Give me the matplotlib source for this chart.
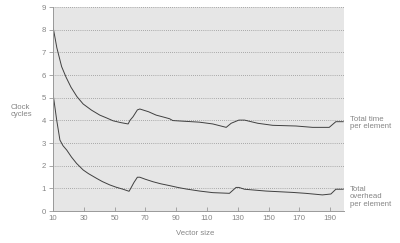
import matplotlib
matplotlib.use("Agg")
import matplotlib.pyplot as plt

# Total time per element
time_x = [10, 12.5, 15.6, 18.5, 21.7, 25.5, 29.6, 35, 40.4, 45, 49, 54, 58.8, 60, 62,
          64.8, 66.4, 72, 77, 82, 85.7, 87.8, 95, 105, 113.8, 122.5, 125.7, 130.7,
          134.4, 143, 152.7, 167.8, 178.6, 189.4, 193.7, 198.5]
time_y = [8.13, 7.2, 6.37, 5.9, 5.46, 5.05, 4.72, 4.45, 4.23, 4.1, 3.98, 3.9, 3.84, 4.0, 4.16,
          4.46, 4.5, 4.38, 4.23, 4.14, 4.07, 3.99, 3.96, 3.92, 3.84, 3.69, 3.87, 4.01,
          4.01, 3.87, 3.78, 3.75, 3.69, 3.69, 3.94, 3.94]

# Total overhead per element
over_x = [10, 12.4, 14.5, 16.5, 18.9, 22, 25.3, 29.6, 33, 38.3, 42, 46.9, 51, 55.5, 59.4,
          60.5, 62.5, 64.8, 66.4, 70, 75, 80, 85.7, 91, 96.5, 105.2, 113.8, 124.6,
          128.9, 130.7, 134.4, 148.3, 165.6, 174, 185, 190.5, 193.7, 198.5]
over_y = [5.19, 4.01, 3.13, 2.88, 2.69, 2.38, 2.1, 1.81, 1.65, 1.44, 1.3, 1.15, 1.05, 0.96, 0.87,
          1.0, 1.25, 1.49, 1.49, 1.4, 1.29, 1.2, 1.12, 1.04, 0.97, 0.88, 0.81, 0.78,
          1.04, 1.04, 0.96, 0.88, 0.82, 0.78, 0.71, 0.75, 0.96, 0.96]

x_ticks = [10, 30, 50, 70, 90, 110, 130, 150, 170, 190]
y_ticks = list(range(10))

plt.rcParams["font.family"] = ["Liberation Sans", "DejaVu Sans"]
text_color = "#858585"
line_color = "#404040"
fs = 5.6

fig = plt.figure(figsize=(4.0, 2.43), dpi=100)
ax = fig.add_axes([53 / 400, 1 - 211 / 243, (344 - 53) / 400, (211 - 7) / 243])
ax.set_facecolor("#e6e6e6")

ax.plot(time_x, time_y, color=line_color, lw=0.7)
ax.plot(over_x, over_y, color=line_color, lw=0.7)

ax.set_xlim(10, 199)
ax.set_ylim(0, 9)
ax.set_xticks(x_ticks)
ax.set_yticks(y_ticks)
for y in y_ticks[1:]:
    ax.axhline(y, color="#707070", lw=0.5, ls=(0, (1, 2)), zorder=1)

for side in ["top", "right"]:
    ax.spines[side].set_visible(False)
for side in ["left", "bottom"]:
    ax.spines[side].set_color("#999999")
    ax.spines[side].set_linewidth(0.7)
ax.tick_params(axis="x", direction="in", length=3, width=0.6, colors="#999999",
               labelcolor=text_color, labelsize=fs, pad=3)
ax.tick_params(axis="y", direction="out", length=3, width=0.6, colors="#999999",
               labelcolor=text_color, labelsize=fs, pad=2)

fig.text(195 / 400, 1 - 233 / 243, "Vector size", color=text_color, fontsize=fs,
         ha="center", va="center")
fig.text(11 / 400, 1 - 111 / 243, "Clock\ncycles", color=text_color, fontsize=fs,
         ha="left", va="center", linespacing=1.15)
fig.text(350 / 400, 1 - 123 / 243, "Total time\nper element", color=text_color,
         fontsize=fs, ha="left", va="center", linespacing=1.15)
fig.text(350 / 400, 1 - 197 / 243, "Total\noverhead\nper element", color=text_color,
         fontsize=fs, ha="left", va="center", linespacing=1.15)

fig.savefig("out.png", dpi=100)
